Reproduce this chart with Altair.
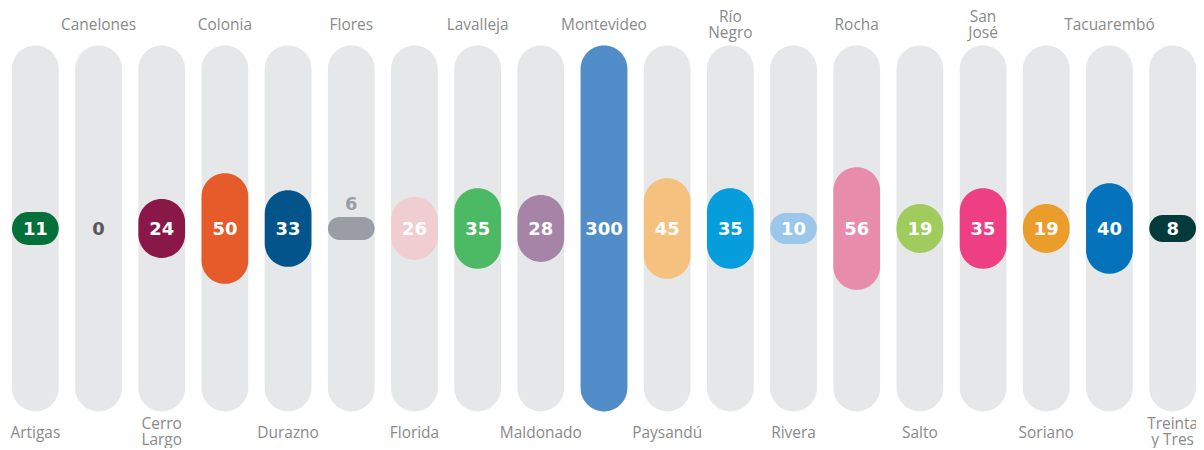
import altair as alt
import pandas as pd

departments = ["Artigas", "Canelones", "Cerro Largo", "Colonia", "Durazno", "Flores",
               "Florida", "Lavalleja", "Maldonado", "Montevideo", "Paysandú", "Río Negro",
               "Rivera", "Rocha", "Salto", "San José", "Soriano", "Tacuarembó", "Treinta y Tres"]
labels = ["Artigas", "Canelones", "Cerro\nLargo", "Colonia", "Durazno", "Flores",
          "Florida", "Lavalleja", "Maldonado", "Montevideo", "Paysandú", "Río\nNegro",
          "Rivera", "Rocha", "Salto", "San\nJosé", "Soriano", "Tacuarembó", "Treinta\ny Tres"]
values = [11, 0, 24, 50, 33, 6, 26, 35, 28, 300, 45, 35, 10, 56, 19, 35, 19, 40, 8]
colors = ["#05703a", "#e6e7e8", "#891848", "#e55b2a", "#03548a", "#9a9ca6",
          "#f0cdd0", "#4cb964", "#a584a8", "#518dc8", "#f4c17e", "#059ddc",
          "#9bc8ea", "#e88cab", "#a0cc5e", "#ee3f82", "#eb9d2b", "#0573bb", "#053a3d"]
value_text_colors = ["#ffffff", "#58595b", "#ffffff", "#ffffff", "#ffffff", "#9a9ca6",
                     "#ffffff", "#ffffff", "#ffffff", "#ffffff", "#ffffff", "#ffffff",
                     "#ffffff", "#ffffff", "#ffffff", "#ffffff", "#ffffff", "#ffffff", "#ffffff"]
label_above = [False, False, False, False, False, True, False, False, False, False,
               False, False, False, False, False, False, False, False, False]
multiline = [False, False, True, False, False, False, False, False, False, False,
             False, True, False, False, False, True, False, False, True]

df = pd.DataFrame({
    "dep": departments,
    "label": labels,
    "value": values,
    "color": colors,
    "tcolor": value_text_colors,
    "above": label_above,
    "multi": multiline,
    "idx": list(range(len(departments))),
})

HALF = 183.5
x = alt.X("dep:N", sort=departments, axis=None,
          scale=alt.Scale(paddingInner=0.26, paddingOuter=0))
yscale = alt.Scale(domain=[-HALF, HALF], clamp=True)

base = alt.Chart(df)

bg = base.transform_calculate(hi=str(HALF), lo=str(-HALF)).mark_bar(
    color="#e6e7e8", cornerRadius=23.5
).encode(
    x=x,
    y=alt.Y("hi:Q", scale=yscale, axis=None),
    y2="lo:Q",
)

pill = base.transform_filter("datum.value > 0").transform_calculate(
    h="datum.value + 5.5", nh="-(datum.value + 5.5)"
).mark_bar(cornerRadius=23.5).encode(
    x=x,
    y=alt.Y("h:Q", scale=yscale, axis=None),
    y2="nh:Q",
    color=alt.Color("color:N", scale=None),
)

val_in = base.transform_filter("!datum.above").transform_calculate(zero="0").mark_text(
    font="DejaVu Sans", fontWeight="bold", fontSize=18, baseline="middle", dy=2
).encode(
    x=x,
    y=alt.Y("zero:Q", scale=yscale, axis=None),
    text=alt.Text("value:Q"),
    color=alt.Color("tcolor:N", scale=None),
)

val_above = base.transform_filter("datum.above").transform_calculate(
    ly="datum.value + 5.5 + 3"
).mark_text(
    font="DejaVu Sans", fontWeight="bold", fontSize=18, baseline="bottom"
).encode(
    x=x,
    y=alt.Y("ly:Q", scale=yscale, axis=None),
    text=alt.Text("value:Q"),
    color=alt.Color("tcolor:N", scale=None),
)

label_style = dict(font="Open Sans", fontSize=15.5, color="#8a8a8a", baseline="middle",
                   lineBreak="\n", lineHeight=16)


def label_layer(parity, multi, ypix):
    cond = f"datum.idx % 2 == {parity} && " + ("datum.multi" if multi else "!datum.multi")
    return base.transform_filter(cond).mark_text(**label_style).encode(
        x=x,
        y=alt.value(ypix),
        text="label:N",
    )


top_single = label_layer(1, False, -21)
top_multi = label_layer(1, True, -29)
bottom_single = label_layer(0, False, 389)
bottom_multi = label_layer(0, True, 380)

chart = alt.layer(bg, pill, val_in, val_above,
                  top_single, top_multi, bottom_single, bottom_multi).properties(
    width=1188,
    height=367,
    padding={"left": 4, "top": 37, "right": 0, "bottom": 36},
    autosize=alt.AutoSizeParams(type="none"),
    background="white",
).configure_view(stroke=None)

chart.save("out.html", embed_options={"renderer": "svg", "actions": False})
